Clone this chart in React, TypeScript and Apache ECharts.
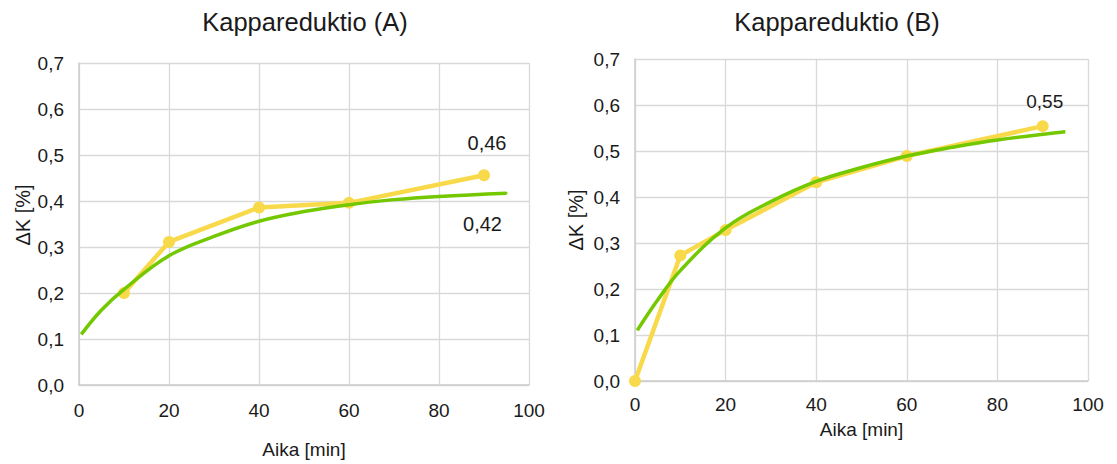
import React, { useEffect, useRef } from 'react';
import * as echarts from 'echarts';

// Chart texts
const titles = ['Kappareduktio (A)', 'Kappareduktio (B)'];
const xAxisName = 'Aika [min]';
const yAxisName = 'ΔK [%]';

// Measured kappa reduction, series A
const timeA = [10, 20, 40, 60, 90];
const kappaA = [0.2, 0.311, 0.386, 0.396, 0.456];
// Trend curve, series A
const trendTimeA = [0.5, 5, 10, 20, 30, 40, 50, 60, 70, 80, 95];
const trendA = [0.11, 0.163, 0.208, 0.281, 0.323, 0.356, 0.377, 0.392, 0.403, 0.41, 0.417];

// Measured kappa reduction, series B
const timeB = [0, 10, 20, 40, 60, 90];
const kappaB = [0, 0.273, 0.328, 0.432, 0.489, 0.554];
// Trend curve, series B
const trendTimeB = [0.5, 5, 10, 20, 30, 40, 50, 60, 70, 80, 95];
const trendB = [0.11, 0.176, 0.24, 0.333, 0.39, 0.434, 0.464, 0.489, 0.508, 0.524, 0.542];

const FONT = '"Liberation Sans", Arial, sans-serif';
const YELLOW = '#f8d94a';
const GREEN = '#74c800';
const GRID_COLOR = '#d9d9d9';
const AXIS_COLOR = '#cccccc';
const TEXT = '#1a1a1a';

const comma = (v: number, d: number) => v.toFixed(d).replace('.', ',');

function pairs(xs: number[], ys: number[]) {
  return xs.map((x, i) => [x, ys[i]]);
}

function xAxis(gridIndex: number, labelMargin: number, nameGap: number) {
  return {
    type: 'value',
    gridIndex,
    min: 0,
    max: 100,
    interval: 20,
    name: xAxisName,
    nameLocation: 'middle',
    nameGap,
    nameTextStyle: { fontSize: 19, color: TEXT, fontFamily: FONT },
    axisLine: { show: true, lineStyle: { color: AXIS_COLOR, width: 1.5 } },
    axisTick: { show: false },
    axisLabel: { fontSize: 19, color: TEXT, fontFamily: FONT, margin: labelMargin },
    splitLine: { show: true, lineStyle: { color: GRID_COLOR, width: 1.3 } },
  };
}

function yAxis(gridIndex: number, nameGap: number, namePadding: number[]) {
  return {
    type: 'value',
    gridIndex,
    min: 0,
    max: 0.7,
    interval: 0.1,
    name: yAxisName,
    nameLocation: 'middle',
    nameGap,
    nameRotate: 90,
    nameTextStyle: { fontSize: 20, color: TEXT, fontFamily: FONT, padding: namePadding },
    axisLine: { show: true, lineStyle: { color: AXIS_COLOR, width: 1.5 } },
    axisTick: { show: false },
    axisLabel: {
      fontSize: 19,
      color: TEXT,
      fontFamily: FONT,
      margin: 15,
      formatter: (v: number) => comma(v, 1),
    },
    splitLine: { show: true, lineStyle: { color: GRID_COLOR, width: 1.3 } },
  };
}

function measuredSeries(
  axisIndex: number,
  xs: number[],
  ys: number[],
  labelSize: number,
  labelDistance: number,
  labelDx: number
) {
  const data: any[] = pairs(xs, ys);
  const last = data.length - 1;
  data[last] = {
    value: data[last],
    label: {
      show: true,
      position: 'top',
      distance: labelDistance,
      offset: [labelDx, 0],
      fontSize: labelSize,
      color: TEXT,
      fontFamily: FONT,
      formatter: (p: any) => comma(p.value[1], 2),
    },
  };
  return {
    type: 'line',
    xAxisIndex: axisIndex,
    yAxisIndex: axisIndex,
    data,
    symbol: 'circle',
    symbolSize: 12,
    clip: false,
    lineStyle: { color: YELLOW, width: 4.5 },
    itemStyle: { color: YELLOW },
    z: 2,
  };
}

function trendSeries(axisIndex: number, xs: number[], ys: number[], endLabel?: any) {
  const data: any[] = pairs(xs, ys);
  if (endLabel) {
    const last = data.length - 1;
    data[last] = {
      value: data[last],
      symbol: 'circle',
      symbolSize: 2,
      label: endLabel,
    };
  }
  return {
    type: 'line',
    xAxisIndex: axisIndex,
    yAxisIndex: axisIndex,
    data,
    smooth: 0.4,
    symbol: 'none',
    lineStyle: { color: GREEN, width: 3.5 },
    itemStyle: { color: GREEN },
    z: 3,
  };
}

export default function App() {
  const ref = useRef<HTMLDivElement>(null);

  useEffect(() => {
    if (!ref.current) return;
    const chart = echarts.init(ref.current, undefined, { renderer: 'svg' });

    chart.setOption({
      animation: false,
      backgroundColor: '#ffffff',
      textStyle: { fontFamily: FONT },
      title: [
        {
          text: titles[0],
          left: 305,
          top: 9,
          padding: 0,
          textAlign: 'center',
          textStyle: { fontSize: 25.5, fontWeight: 'normal', color: TEXT, fontFamily: FONT },
        },
        {
          text: titles[1],
          left: 837,
          top: 9,
          padding: 0,
          textAlign: 'center',
          textStyle: { fontSize: 25.5, fontWeight: 'normal', color: TEXT, fontFamily: FONT },
        },
      ],
      grid: [
        { left: 79, top: 63, width: 450, height: 322 },
        { left: 635, top: 59, width: 453, height: 322 },
      ],
      xAxis: [xAxis(0, 16, 55), xAxis(1, 14, 39)],
      yAxis: [yAxis(0, 46, [0, 0, 0, 18]), yAxis(1, 49, [0, 0, 0, 0])],
      series: [
        measuredSeries(0, timeA, kappaA, 20, 16, 3),
        trendSeries(0, trendTimeA, trendA, {
          show: true,
          position: 'bottom',
          distance: 0,
          offset: [-24, 20],
          fontSize: 20,
          color: TEXT,
          fontFamily: FONT,
          formatter: (p: any) => comma(p.value[1], 2),
        }),
        measuredSeries(1, timeB, kappaB, 19, 9, 2),
        trendSeries(1, trendTimeB, trendB),
      ],
    });

    return () => chart.dispose();
  }, []);

  return (
    <div
      ref={ref}
      style={{ position: 'fixed', left: 0, top: 0, width: 1117, height: 464, background: '#fff' }}
    />
  );
}
